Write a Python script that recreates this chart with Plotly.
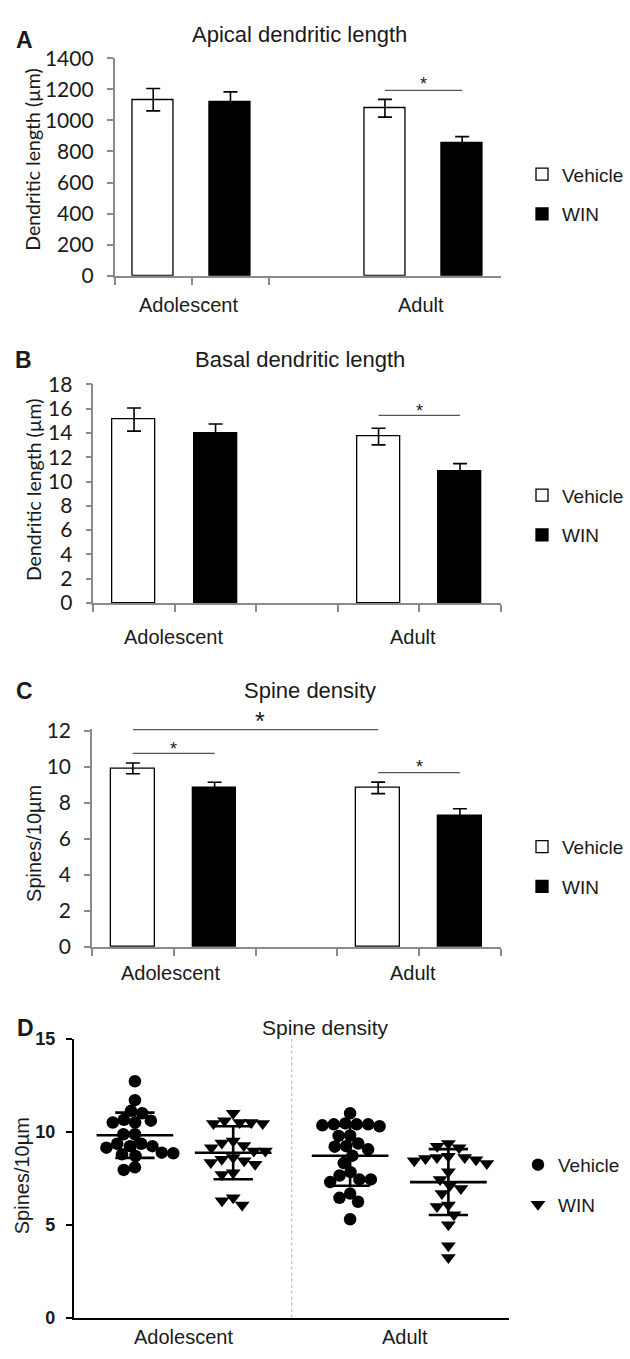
import numpy as np
import plotly.graph_objects as go

# ---------------- data ----------------
categories = ["Adolescent", "Adult"]
series = ["Vehicle", "WIN"]

# Panel A: apical dendritic length (um), mean and SEM
apical_vehicle = [1133, 1078]
apical_vehicle_err = [72, 57]
apical_win = [1120, 851]
apical_win_err = [63, 44]

# Panel B: basal dendritic length
basal_vehicle = [15.1, 13.7]
basal_vehicle_err = [0.95, 0.68]
basal_win = [14.0, 10.85]
basal_win_err = [0.73, 0.62]

# Panel C: spine density (spines/10um)
spine_vehicle = [9.9, 8.82]
spine_vehicle_err = [0.30, 0.32]
spine_win = [8.83, 7.28]
spine_win_err = [0.30, 0.38]

# Panel D: individual spine density values
ado_vehicle_pts = [12.72, 11.7, 11.0, 11.13, 10.6, 10.5, 10.5, 10.65, 9.87, 9.87,
                   9.36, 9.23, 9.15, 9.23, 9.36, 8.88, 8.79, 8.7, 8.85, 7.95, 8.09]
ado_win_pts = [11.0, 10.6, 10.5, 10.45, 10.45, 10.5, 9.5, 9.4, 9.27, 8.97, 8.97,
               9.15, 8.62, 8.35, 8.53, 8.26, 8.44, 7.8, 7.7, 6.45, 6.07, 6.3]
adult_vehicle_pts = [11.0, 10.4, 10.35, 10.45, 10.4, 10.3, 10.4, 9.8, 9.78, 9.23,
                     9.2, 9.37, 9.06, 8.72, 8.32, 7.83, 7.65, 7.44, 7.3, 7.44,
                     6.45, 6.24, 6.68, 5.3]
adult_win_pts = [9.23, 9.15, 9.37, 8.62, 8.44, 8.5, 8.62, 8.56, 8.68, 7.86, 8.3,
                 7.44, 7.12, 6.95, 6.68, 6.07, 5.98, 5.54, 5.01, 3.87, 3.25]

# ---------------- layout helpers ----------------
W, H = 630, 1359
def fx(px):
    return px / W
def fy(py):
    return 1 - py / H

TXT = "#1a1a1a"
GRAY = "#8a8a8a"
ARIAL = "Liberation Sans, Arial, sans-serif"
CAL = "Lato, Calibri, sans-serif"

bar_group_pos = [0, 3]
bar_offsets = [0, 1]

fig = go.Figure()

bar_panels = [
    ("", apical_vehicle, apical_vehicle_err, apical_win, apical_win_err, "legend"),
    ("2", basal_vehicle, basal_vehicle_err, basal_win, basal_win_err, "legend2"),
    ("3", spine_vehicle, spine_vehicle_err, spine_win, spine_win_err, "legend3"),
]
for suf, vv, ve, wv, we, leg in bar_panels:
    for si, (vals, errs, fill) in enumerate([(vv, ve, "white"), (wv, we, "black")]):
        xs = [g + bar_offsets[si] for g in bar_group_pos]
        fig.add_trace(go.Bar(
            x=xs, y=vals, width=0.53, name=series[si],
            marker=dict(color=fill, line=dict(color="black", width=1.3)),
            error_y=dict(type="data", array=errs, visible=True, color="black",
                         thickness=1.6, width=7),
            xaxis="x" + suf, yaxis="y" + suf, legend=leg,
            legendgroup=series[si] + suf,
        ))

# Panel D scatter with beeswarm offsets
D_xscale = 98.3   # px per x unit
D_yscale = 18.95  # px per y unit
DIAM = 11.5

def swarm(vals):
    order = np.argsort(-np.asarray(vals))
    placed = []
    offs = np.zeros(len(vals))
    for i in order:
        yi = vals[i] * D_yscale
        cands = [0.0]
        for (xj, yj) in placed:
            dy = abs(yi - yj)
            if dy < DIAM:
                dx = np.sqrt(DIAM ** 2 - dy ** 2)
                cands += [xj + dx, xj - dx]
        cands.sort(key=lambda c: (abs(c), c))
        for c in cands:
            ok = all((c - xj) ** 2 + (yi - yj) ** 2 >= DIAM ** 2 - 1e-6 for xj, yj in placed)
            if ok:
                offs[i] = c
                placed.append((c, yi))
                break
    return offs / D_xscale

D_group_pos = [0, 2.19]
D_sets = [[ado_vehicle_pts, ado_win_pts], [adult_vehicle_pts, adult_win_pts]]
symbols = ["circle", "triangle-down"]
for gi, gpos in enumerate(D_group_pos):
    for si in range(2):
        vals = D_sets[gi][si]
        cx = gpos + bar_offsets[si]
        xs = cx + swarm(vals)
        fig.add_trace(go.Scatter(
            x=xs, y=vals, mode="markers", name=series[si],
            marker=dict(symbol=symbols[si], size=12.5 if si == 0 else 13, color="black"),
            xaxis="x4", yaxis="y4", legend="legend4", showlegend=(gi == 0),
            legendgroup="D" + series[si], cliponaxis=False,
        ))
        m = float(np.mean(vals))
        s = float(np.std(vals, ddof=1))
        lx, ly = [], []
        lx += [cx - 0.39, cx + 0.39, None]; ly += [m, m, None]
        lx += [cx - 0.2, cx + 0.2, None]; ly += [m + s, m + s, None]
        lx += [cx - 0.2, cx + 0.2, None]; ly += [m - s, m - s, None]
        lx += [cx, cx]; ly += [m - s, m + s]
        fig.add_trace(go.Scatter(
            x=lx, y=ly, mode="lines", line=dict(color="black", width=2.6),
            xaxis="x4", yaxis="y4", showlegend=False, hoverinfo="skip",
        ))

# ---------------- axes ----------------
def bar_xaxis(dom, ticks):
    return dict(domain=dom, range=[-0.5, 4.5], showline=True, linecolor=GRAY,
                linewidth=1.5, ticks="outside", ticklen=7, tickcolor=GRAY,
                tickwidth=1.5, tickvals=ticks, showticklabels=False,
                showgrid=False, zeroline=False, fixedrange=True)

def bar_yaxis(dom, rng, dt, anchor):
    return dict(domain=dom, range=rng, dtick=dt, tick0=0, showline=True,
                linecolor=GRAY, linewidth=1.5, ticks="outside", ticklen=6,
                tickcolor=GRAY, tickwidth=1.5, showgrid=False, zeroline=False,
                tickfont=dict(family=CAL, size=21, color=TXT),
                ticklabelstandoff=9, anchor=anchor, fixedrange=True)

C_top = 12.1
fig.update_layout(
    xaxis=dict(**bar_xaxis([fx(114.6), fx(500.8)], [-0.5, 0.5, 1.5]), anchor="y"),
    yaxis=bar_yaxis([fy(266.7), fy(45)], [0, 1400], 200, "x"),
    xaxis2=dict(**bar_xaxis([fx(93.3), fx(500.8)], [-0.5, 0.5, 1.5, 2.5, 3.5, 4.5]), anchor="y2"),
    yaxis2=bar_yaxis([fy(600), fy(377.3)], [0, 18], 2, "x2"),
    xaxis3=dict(**bar_xaxis([fx(92), fx(500.8)], [-0.5, 0.5, 1.5, 2.5, 3.5, 4.5]), anchor="y3"),
    yaxis3=bar_yaxis([fy(950.4), fy(950.4 - C_top * 18.37)], [0, C_top], 2, "x3"),
    xaxis4=dict(domain=[fx(74), fx(509.3)], range=[-0.62, 3.81], showline=True,
                linecolor="black", linewidth=2.2, ticks="", showticklabels=False,
                showgrid=False, zeroline=False, anchor="y4", fixedrange=True),
    yaxis4=dict(domain=[fy(1328.3), fy(1044)], range=[0, 15], dtick=5, tick0=0,
                showline=True, linecolor="black", linewidth=2.2, ticks="outside",
                ticklen=6, tickwidth=2.2, tickcolor="black", showgrid=False,
                zeroline=False, anchor="x4", ticklabelstandoff=7,
                tickfont=dict(family=ARIAL, size=18, color=TXT, weight="bold"),
                fixedrange=True),
)

# ---------------- legends ----------------
def leg(ytop, x=fx(522), size=19):
    return dict(x=x, xanchor="left", y=fy(ytop), yanchor="top",
                font=dict(family=ARIAL, size=size, color=TXT),
                bgcolor="rgba(0,0,0,0)", tracegroupgap=12, traceorder="grouped",
                itemclick=False, itemdoubleclick=False)

fig.update_layout(
    legend=leg(144),
    legend2=leg(471),
    legend3=leg(829),
    legend4=leg(1153, x=fx(518)),
)

# ---------------- annotations ----------------
ann = []
def text(x, y, s, size=20, xref="paper", bold=False, family=ARIAL, angle=0):
    ann.append(dict(x=x, y=y, xref=xref, yref="paper", text=("<b>%s</b>" % s) if bold else s,
                    showarrow=False, font=dict(family=family, size=size, color=TXT),
                    xanchor="center", yanchor="middle", textangle=angle))

# panel letters
for lx, ly, s in [(24, 26, "A"), (23, 352, "B"), (24, 690, "C"), (25, 1033, "D")]:
    text(fx(lx), fy(ly), s, size=23, bold=True)

# titles
text(fx(299.7), fy(21), "Apical dendritic length", size=22)
text(fx(299.7), fy(352), "Basal dendritic length", size=22)
text(fx(310), fy(689), "Spine density", size=22)
text(fx(325.5), fy(1032), "Spine density", size=21)

# y-axis titles
text(fx(33), fy(148.5), "Dendritic length (\u00b5m)", size=19.5, family=CAL, angle=-90)
text(fx(33), fy(485), "Dendritic length (\u00b5m)", size=19.5, family=CAL, angle=-90)
text(fx(34), fy(845.5), "Spines/10\u00b5m", size=20, angle=-90)
text(fx(22), fy(1184), "Spines/10\u00b5m", size=20, angle=-90)

# category labels (data x positions)
for xr, ypx, xs in [("x", 296, [0.46, 3.47]), ("x2", 635, [0.48, 3.42]),
                    ("x3", 977, [0.46, 3.42]), ("x4", 1348, [0.49, 2.75])]:
    for ci, c in enumerate(categories):
        text(xs[ci], fy(ypx), c, size=20, xref=xr)

# significance stars (glyph centre positions in px)
for xr, xv, ypx, sz in [("x", 3.5, 67, 18), ("x2", 3.5, 400, 18), ("x3", 1.56, 714, 25),
                        ("x3", 0.5, 744, 18), ("x3", 3.5, 763, 18)]:
    ann.append(dict(x=xv, y=fy(ypx + 0.24 * sz), xref=xr, yref="paper", text="*",
                    showarrow=False, font=dict(family=ARIAL, size=sz, color=TXT),
                    xanchor="center", yanchor="middle"))
fig.update_layout(annotations=ann)

# significance lines and divider
shapes = []
for xr, yr, x0, x1, yv in [("x", "y", 3, 4, 1193), ("x2", "y2", 3, 4, 15.44),
                           ("x3", "y3", 0, 3, 12.05), ("x3", "y3", 0, 1, 10.73),
                           ("x3", "y3", 3, 4, 9.67)]:
    shapes.append(dict(type="line", xref=xr, yref=yr, x0=x0, x1=x1, y0=yv, y1=yv,
                       line=dict(color="#555555", width=1.3)))
shapes.append(dict(type="line", xref="x4", yref="y4", x0=1.595, x1=1.595, y0=0, y1=15,
                   line=dict(color="#bdbdbd", width=1.2, dash="dot"), layer="below"))
fig.update_layout(shapes=shapes)

fig.update_layout(width=W, height=H, autosize=False,
                  margin=dict(l=0, r=0, t=0, b=0),
                  paper_bgcolor="white", plot_bgcolor="white",
                  bargap=0, showlegend=True)

fig.write_html("out.html", config={"displayModeBar": False})
